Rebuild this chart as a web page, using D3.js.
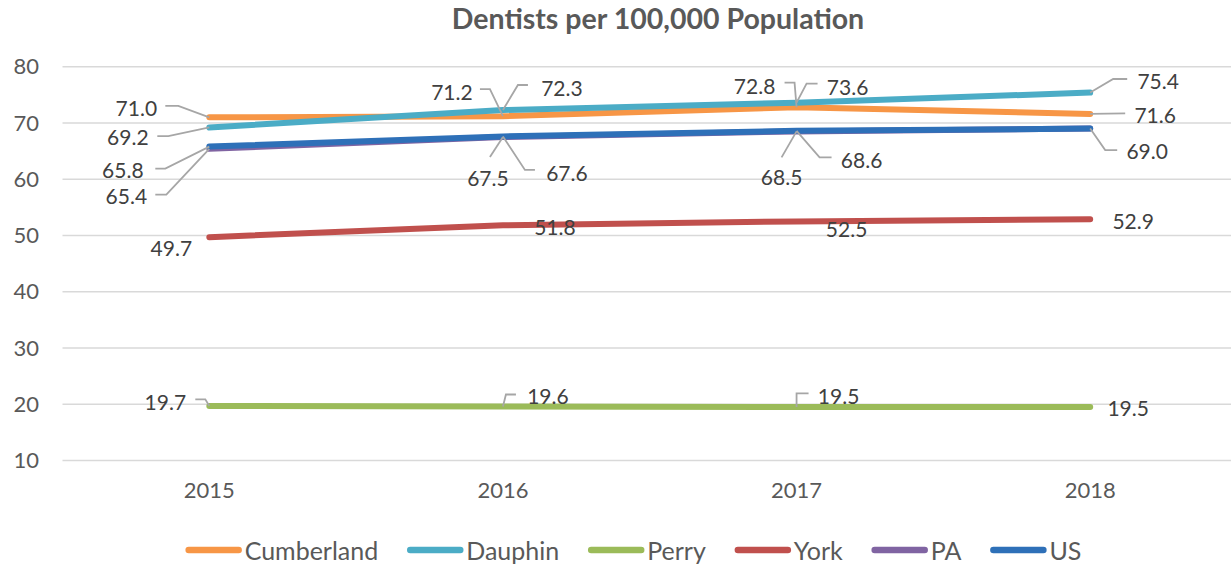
<!DOCTYPE html>
<html>
<head>
<meta charset="utf-8">
<script src="https://cdn.jsdelivr.net/npm/d3@7"></script>
<style>
  html, body { margin: 0; padding: 0; background: #fff; }
  svg { display: block; font-family: Lato, "Open Sans", sans-serif; }
</style>
</head>
<body>
<svg id="chart" width="1231" height="567"></svg>
<script>
// Dentists per 100,000 population, 2015-2018
const years = ["2015", "2016", "2017", "2018"];
const seriesNames = ["Cumberland", "Dauphin", "Perry", "York", "PA", "US"];
const cumberland = [71.0, 71.2, 72.8, 71.6];
const dauphin = [69.2, 72.3, 73.6, 75.4];
const perry = [19.7, 19.6, 19.5, 19.5];
const york = [49.7, 51.8, 52.5, 52.9];
const pa = [65.4, 67.5, 68.5, 69.0];
const us = [65.8, 67.6, 68.6, 69.0];
const yTicks = [10, 20, 30, 40, 50, 60, 70, 80];

const colors = {
  Cumberland: "#F79646",
  Dauphin: "#4BACC6",
  Perry: "#9BBB59",
  York: "#C0504D",
  PA: "#8064A2",
  US: "#2E70B8"
};

const series = [
  { name: "Cumberland", values: cumberland },
  { name: "Dauphin", values: dauphin },
  { name: "Perry", values: perry },
  { name: "York", values: york },
  { name: "PA", values: pa },
  { name: "US", values: us }
];

// Label placement: offset of label centre from the point, plus optional
// leader line (start, elbow) relative to the point; null = no label.
const labelLayout = {
  Cumberland: [
    { dx: -73, dy: -10, lead: [[-44, -11.5], [-31, -11.5]] },
    { dx: -51, dy: -24.5, lead: [[-23, -27], [-13, -27]] },
    { dx: -42, dy: -22, lead: [[-12, -24.5], [-2, -24.5]] },
    { dx: 65, dy: 1, lead: [[35, -0.5]] }
  ],
  Dauphin: [
    { dx: -81.5, dy: 8.6, lead: [[-52, 8.6], [-41, 8.6]] },
    { dx: 59, dy: -23, lead: [[25, -25], [15, -25]] },
    { dx: 51, dy: -16, lead: [[21, -19], [10, -19]] },
    { dx: 68, dy: -12, lead: [[37, -13.6], [23, -13.6]] }
  ],
  Perry: [
    { dx: -44, dy: -4, lead: [[-14, -6.6], [-4, -6.6]] },
    { dx: 45, dy: -11, lead: [[13, -12], [3, -12]] },
    { dx: 42, dy: -11.7, lead: [[12, -13.7], [0, -13.7]] },
    { dx: 38, dy: 0, lead: null }
  ],
  York: [
    { dx: -38, dy: 10, lead: null },
    { dx: 52, dy: 1, lead: null },
    { dx: 50, dy: 7, lead: null },
    { dx: 43, dy: 1, lead: null }
  ],
  PA: [
    { dx: -83, dy: 47, lead: [[-54, 45.7], [-43, 45.7]] },
    { dx: -15, dy: 40, lead: [[-13, 20]] },
    { dx: -15, dy: 45, lead: [[-15, 26]] },
    null
  ],
  US: [
    { dx: -86.5, dy: 22.5, lead: [[-54, 22], [-44, 22]] },
    { dx: 64, dy: 36.5, lead: [[32, 33.5], [22, 33.5]] },
    { dx: 65, dy: 28.5, lead: [[35, 26.5], [23, 26.5]] },
    { dx: 57, dy: 22, lead: [[27, 21.5], [15, 21.5]] }
  ]
};

const W = 1231, H = 567;
const svg = d3.select("#chart");

const x = d3.scaleBand().domain(years).range([62.5, 1237]);
const y = d3.scaleLinear().domain([10, 80]).range([460.5, 66.7]);
const cx = d => x(d) + x.bandwidth() / 2;

// Title
svg.append("text")
  .attr("x", 658).attr("y", 28.5)
  .attr("text-anchor", "middle")
  .attr("font-size", 28.5).attr("font-weight", "bold")
  .attr("fill", "#595959")
  .text("Dentists per 100,000 Population");

// Gridlines
svg.append("g")
  .selectAll("line").data(yTicks).join("line")
  .attr("x1", 62.5).attr("x2", W)
  .attr("y1", d => y(d)).attr("y2", d => y(d))
  .attr("stroke", "#D9D9D9").attr("stroke-width", 1.5);

// Y axis labels
const yAxis = svg.append("g")
  .attr("transform", "translate(39,0)")
  .call(d3.axisLeft(y).tickValues(yTicks).tickSize(0).tickPadding(0));
yAxis.select(".domain").remove();
yAxis.selectAll("text")
  .attr("font-family", "Lato, sans-serif")
  .attr("font-size", 22).attr("fill", "#595959");

// X axis labels
const xAxis = svg.append("g")
  .attr("transform", "translate(0,482)")
  .call(d3.axisBottom(x).tickSize(0).tickPadding(0));
xAxis.select(".domain").remove();
xAxis.selectAll("text")
  .attr("font-family", "Lato, sans-serif")
  .attr("font-size", 22).attr("fill", "#595959");

// Lines
const line = d3.line()
  .x((d, i) => cx(years[i]))
  .y(d => y(d));

svg.append("g")
  .selectAll("path").data(series).join("path")
  .attr("d", s => line(s.values))
  .attr("fill", "none")
  .attr("stroke", s => colors[s.name])
  .attr("stroke-width", 6)
  .attr("stroke-linecap", "round")
  .attr("stroke-linejoin", "round");

// Data labels with leader lines
const labelG = svg.append("g");
series.forEach(s => {
  s.values.forEach((v, i) => {
    const lay = labelLayout[s.name][i];
    if (!lay) return;
    const px = cx(years[i]), py = y(v);
    if (lay.lead) {
      const pts = lay.lead.map(p => [px + p[0], py + p[1]]).concat([[px, py]]);
      labelG.append("path")
        .attr("d", d3.line()(pts))
        .attr("fill", "none")
        .attr("stroke", "#A6A6A6")
        .attr("stroke-width", 1.8);
    }
    labelG.append("text")
      .attr("x", px + lay.dx).attr("y", py + lay.dy)
      .attr("text-anchor", "middle")
      .attr("dominant-baseline", "central")
      .attr("font-size", 21).attr("fill", "#404040")
      .text(d3.format(".1f")(v));
  });
});

// Legend
const legend = svg.append("g").attr("transform", "translate(0,550)");
const swatch = 56, gapText = 3, gapItem = 29;
let lx = 0;
const items = [];
seriesNames.forEach(name => {
  const g = legend.append("g");
  g.append("line")
    .attr("x1", 3).attr("x2", swatch - 3)
    .attr("stroke", colors[name]).attr("stroke-width", 6.5)
    .attr("stroke-linecap", "round");
  const t = g.append("text")
    .attr("x", swatch + gapText).attr("y", 0)
    .attr("dominant-baseline", "central")
    .attr("font-size", 25).attr("fill", "#595959")
    .text(name);
  const w = t.node().getComputedTextLength();
  items.push({ g, x: lx });
  lx += swatch + gapText + w + gapItem;
});
const totalW = lx - gapItem;
const startX = 633.5 - totalW / 2;
items.forEach(it => it.g.attr("transform", `translate(${startX + it.x},0)`));
</script>
</body>
</html>
